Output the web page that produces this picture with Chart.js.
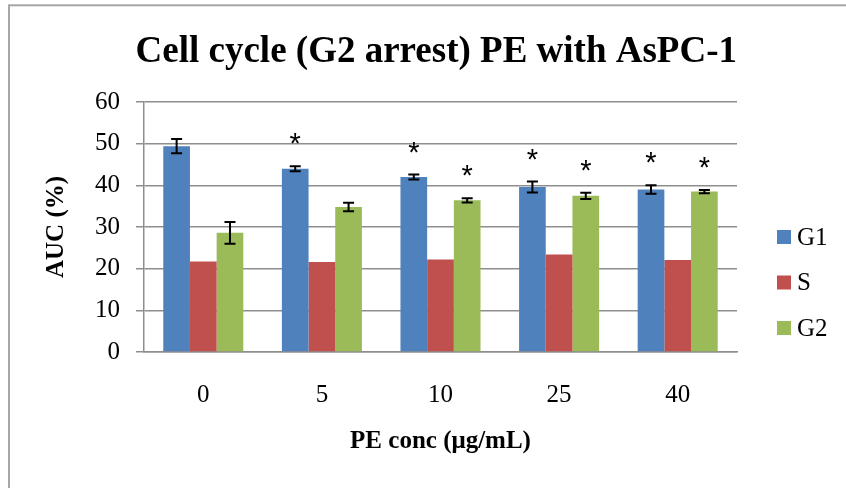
<!DOCTYPE html>
<html>
<head>
<meta charset="utf-8">
<title>Cell cycle (G2 arrest) PE with AsPC-1</title>
<script src="https://cdn.jsdelivr.net/npm/chart.js@4.4.1/dist/chart.umd.min.js"></script>
<style>
  html, body { margin: 0; padding: 0; background: #ffffff; }
  #wrap { width: 846px; height: 488px; position: relative; }
</style>
</head>
<body>
<div id="wrap"><canvas id="chart" width="846" height="488"></canvas></div>
<script>
// PE concentration (µg/mL) on the category axis
const categories = ['0', '5', '10', '25', '40'];

// Share of cells in each phase, AUC (%)
const g1Values = [49.4, 44.0, 42.0, 39.6, 39.0];
const sValues  = [21.7, 21.6, 22.2, 23.4, 22.1];
const g2Values = [28.6, 34.8, 36.4, 37.5, 38.5];

// Error bar half-lengths (S has none)
const g1Errors = [1.7, 0.6, 0.6, 1.3, 1.0];
const g2Errors = [2.6, 1.0, 0.5, 0.75, 0.4];

// Significance markers (*) above the bars
const g1Significant = [false, true, true, true, true];
const g2Significant = [false, false, true, true, true];

// Value axis ticks
const yTicks = [0, 10, 20, 30, 40, 50, 60];

const SERIF = '"Liberation Serif", "Times New Roman", Times, serif';
const GRID = '#8e8e8e';

// Outer frame of the chart object
const framePlugin = {
  id: 'frame',
  beforeDraw(chart) {
    const ctx = chart.ctx;
    ctx.save();
    ctx.fillStyle = '#ffffff';
    ctx.fillRect(0, 0, chart.width, chart.height);
    ctx.strokeStyle = '#a6a6a6';
    ctx.lineWidth = 2;
    ctx.strokeRect(9, 5.3, chart.width + 50, chart.height + 50);
    ctx.restore();
  }
};

// Error bars and significance asterisks, placed through the value scale
const errorBarPlugin = {
  id: 'errorBars',
  afterDatasetsDraw(chart) {
    const ctx = chart.ctx;
    const yScale = chart.scales.y;
    ctx.save();
    chart.data.datasets.forEach((ds, di) => {
      if (!ds.errors) return;
      const meta = chart.getDatasetMeta(di);
      meta.data.forEach((bar, i) => {
        const v = ds.data[i];
        const e = ds.errors[i];
        const x = bar.x;
        const yTop = yScale.getPixelForValue(v + e);
        const yBot = yScale.getPixelForValue(v - e);
        ctx.strokeStyle = '#000000';
        ctx.lineWidth = 2;
        ctx.beginPath();
        ctx.moveTo(x, yTop); ctx.lineTo(x, yBot);
        ctx.moveTo(x - 5.5, yTop); ctx.lineTo(x + 5.5, yTop);
        ctx.moveTo(x - 5.5, yBot); ctx.lineTo(x + 5.5, yBot);
        ctx.stroke();
        if (ds.significant && ds.significant[i]) {
          ctx.fillStyle = '#000000';
          ctx.font = '29px "Liberation Sans", Arial, sans-serif';
          ctx.textAlign = 'center';
          ctx.textBaseline = 'alphabetic';
          ctx.fillText('*', x, yTop - 29 + 16);
        }
      });
    });
    ctx.restore();
  }
};

// Legend at the right of the plot: square swatch followed by the series name
const sideLegendPlugin = {
  id: 'sideLegend',
  afterDraw(chart, args, opts) {
    const ctx = chart.ctx;
    ctx.save();
    ctx.font = opts.font;
    ctx.textAlign = 'left';
    ctx.textBaseline = 'middle';
    chart.data.datasets.forEach((ds, i) => {
      const cy = opts.top + i * opts.step;
      ctx.fillStyle = ds.backgroundColor;
      ctx.fillRect(opts.left, cy - opts.box / 2, opts.box, opts.box);
      ctx.fillStyle = '#000000';
      ctx.fillText(ds.label, opts.left + opts.box + 6, cy + 1);
    });
    ctx.restore();
  }
};

new Chart(document.getElementById('chart'), {
  type: 'bar',
  data: {
    labels: categories,
    datasets: [
      { label: 'G1', data: g1Values, errors: g1Errors, significant: g1Significant, backgroundColor: '#4f81bd' },
      { label: 'S',  data: sValues,  backgroundColor: '#c0504d' },
      { label: 'G2', data: g2Values, errors: g2Errors, significant: g2Significant, backgroundColor: '#9bbb59' }
    ]
  },
  options: {
    responsive: false,
    animation: false,
    devicePixelRatio: 1,
    layout: { padding: { left: 0, right: 109, top: 0, bottom: 0 } },
    datasets: {
      bar: { categoryPercentage: 0.675, barPercentage: 1.0, borderWidth: 0 }
    },
    plugins: {
      legend: { display: false },
      tooltip: { enabled: false },
      title: {
        display: true,
        align: 'end',
        text: 'Cell cycle (G2 arrest) PE with AsPC-1',
        color: '#000000',
        font: { family: SERIF, size: 37, weight: 'bold', lineHeight: 1.2 },
        padding: { top: 30, bottom: 27.6 }
      },
      sideLegend: { left: 777, top: 237, step: 45.5, box: 14, font: '25px ' + SERIF }
    },
    scales: {
      x: {
        grid: { display: false, drawTicks: false },
        border: { display: true, color: GRID, width: 1.5 },
        ticks: { color: '#000000', font: { family: SERIF, size: 25 }, padding: 28 },
        title: {
          display: true,
          text: 'PE conc (μg/mL)',
          color: '#000000',
          font: { family: SERIF, size: 25, weight: 'bold', lineHeight: 1.2 },
          padding: { top: 0, bottom: 31 }
        },
        afterFit(scale) { scale.height = 136; }
      },
      y: {
        min: 0,
        max: 60,
        grid: { color: GRID, lineWidth: 1.5, drawTicks: true, tickLength: 8, tickColor: GRID },
        border: { display: true, color: GRID, width: 1.5 },
        afterBuildTicks(scale) { scale.ticks = yTicks.map(v => ({ value: v })); },
        ticks: { color: '#000000', font: { family: SERIF, size: 25 }, padding: 16 },
        title: {
          display: true,
          text: 'AUC (%)',
          color: '#000000',
          font: { family: SERIF, size: 25, weight: 'bold', lineHeight: 1.2 },
          padding: { top: 42, bottom: 0 }
        },
        afterFit(scale) { scale.width = 144; }
      }
    }
  },
  plugins: [framePlugin, errorBarPlugin, sideLegendPlugin]
});
</script>
</body>
</html>
